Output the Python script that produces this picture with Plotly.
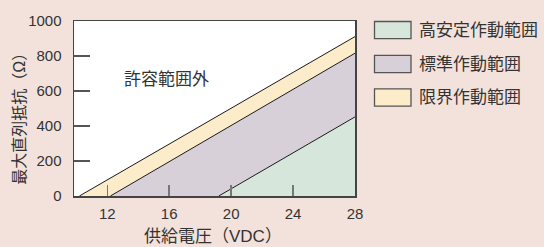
import plotly.graph_objects as go

# ---- data ----
regions = ["高安定作動範囲", "標準作動範囲", "限界作動範囲"]
v_at_zero = [19.2, 12.2, 10.2]      # supply voltage where max resistance = 0
r_at_max = [452, 816, 911]          # max series resistance at 28 VDC
v_max = 28
fill_colors = ["#d6e6da", "#d7d0d8", "#fdecca"]
x_ticks = [12, 16, 20, 24, 28]
y_ticks = [0, 200, 400, 600, 800, 1000]
outside_label = "許容範囲外"
outside_pos = (15.85, 668)

BG = "#f3e2db"
TXT = "#333333"
FONT = "Liberation Sans, Arial, Noto Sans CJK JP"

fig = go.Figure()

fig.add_trace(go.Scatter(
    x=[v_at_zero[2], v_at_zero[1], v_max, v_max],
    y=[0, 0, r_at_max[1], r_at_max[2]],
    fill="toself", fillcolor=fill_colors[2], mode="none", hoverinfo="skip", showlegend=False))
fig.add_trace(go.Scatter(
    x=[v_at_zero[1], v_at_zero[0], v_max, v_max],
    y=[0, 0, r_at_max[0], r_at_max[1]],
    fill="toself", fillcolor=fill_colors[1], mode="none", hoverinfo="skip", showlegend=False))
fig.add_trace(go.Scatter(
    x=[v_at_zero[0], v_max, v_max],
    y=[0, 0, r_at_max[0]],
    fill="toself", fillcolor=fill_colors[0], mode="none", hoverinfo="skip", showlegend=False))

for v0, r1 in zip(v_at_zero, r_at_max):
    fig.add_trace(go.Scatter(x=[v0, v_max], y=[0, r1], mode="lines",
                             line=dict(color="#1a1a1a", width=1),
                             hoverinfo="skip", showlegend=False))

# inside tick marks on the y axis, drawn as short line segments in data coordinates
y_tick_x0 = 9.85
y_tick_x1 = 9.85 + 16 / 15.48
for yv in y_ticks[1:-1]:
    fig.add_trace(go.Scatter(x=[y_tick_x0, y_tick_x1], y=[yv, yv], mode="lines",
                             line=dict(color="#555555", width=1.5),
                             hoverinfo="skip", showlegend=False, cliponaxis=False))

fig.add_annotation(x=outside_pos[0], y=outside_pos[1], text=outside_label,
                   showarrow=False, font=dict(size=17, color=TXT, family=FONT))

W, H = 544, 247
L, R, T, B = 74, 355, 13, 196
pw, ph = R - L, B - T

def px(xp):
    return (xp - L) / pw

def py(yp):
    return (B - yp) / ph

box_centers = [22.5, 58, 93]
for name, col, cy in zip(regions, fill_colors, box_centers):
    fig.add_shape(type="rect", xref="paper", yref="paper",
                  x0=px(374.5), x1=px(411), y0=py(cy + 9), y1=py(cy - 9),
                  fillcolor=col, line=dict(color="#555555", width=1.3))
    fig.add_annotation(xref="paper", yref="paper", x=px(417), y=py(cy),
                       xanchor="left", yanchor="middle", text=name, showarrow=False,
                       font=dict(size=17, color=TXT, family=FONT))

fig.add_annotation(xref="paper", yref="paper", x=px(213), y=py(238.5),
                   text="供給電圧（VDC）", showarrow=False,
                   xanchor="center", yanchor="middle",
                   font=dict(size=17, color=TXT, family=FONT))
fig.add_annotation(xref="paper", yref="paper", x=px(20), y=py(111),
                   text="最大直列抵抗（Ω）", showarrow=False, textangle=-90,
                   xanchor="center", yanchor="middle",
                   font=dict(size=16, color=TXT, family=FONT))

fig.update_xaxes(range=[9.85, 28], tickvals=x_ticks, ticks="inside", ticklen=11,
                 tickcolor="#777777", tickwidth=1.5, showgrid=False, zeroline=False,
                 showline=True, mirror=True, linecolor="#444444", linewidth=1.5,
                 ticklabelstandoff=3,
                 tickfont=dict(size=15, color=TXT, family=FONT))
fig.update_yaxes(range=[0, 1000], tickvals=y_ticks, ticks="inside", ticklen=16,
                 tickcolor="#555555", tickwidth=1.5,
                 showgrid=False, zeroline=False,
                 showline=True, mirror=True, linecolor="#444444", linewidth=1.5,
                 ticklabelstandoff=8,
                 tickfont=dict(size=15, color=TXT, family=FONT))

fig.update_layout(width=W, height=H, margin=dict(l=L, r=W - R, t=T, b=H - B),
                  paper_bgcolor=BG, plot_bgcolor="white", showlegend=False)

fig.write_html("out.html", config={"displayModeBar": False, "staticPlot": True},
               post_script="document.body.style.margin='0';document.body.style.overflow='hidden';")
